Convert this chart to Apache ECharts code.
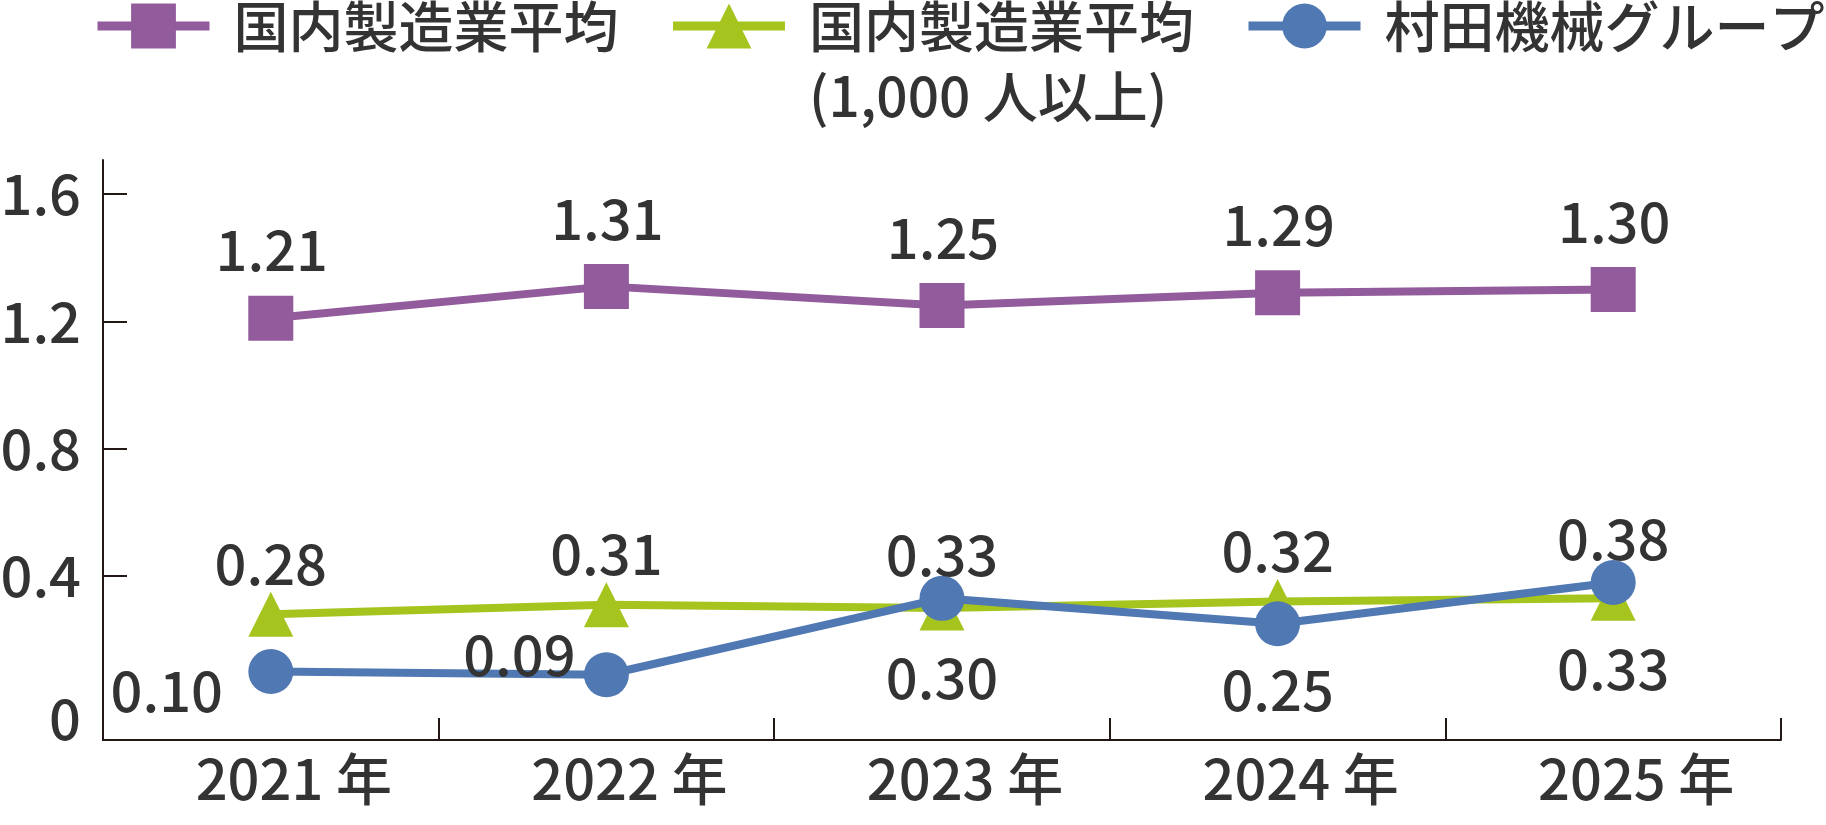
<!DOCTYPE html>
<html>
<head>
<meta charset="utf-8">
<script src="https://cdn.jsdelivr.net/npm/echarts@6/dist/echarts.min.js"></script>
<style>
html,body{margin:0;padding:0;background:#ffffff;}
#chart{width:1826px;height:825px;}
</style>
</head>
<body>
<div id="chart"></div>
<script>
// ---- data ----
const categories = ['2021 年', '2022 年', '2023 年', '2024 年', '2025 年'];
const seriesNames = ['国内製造業平均', '国内製造業平均\n(1,000 人以上)', '村田機械グループ'];
const mfgAverage = [1.21, 1.31, 1.25, 1.29, 1.30];
const mfgLargeAverage = [0.28, 0.31, 0.30, 0.32, 0.33];
const murataGroup = [0.10, 0.09, 0.33, 0.25, 0.38];
const yTickLabels = [0, 0.4, 0.8, 1.2, 1.6];

// ---- label placement (style) ----
const placeMfg = ['top', 'top', 'top', 'top', 'top'];
const placeLarge = ['top', 'top', 'bottom', 'top', 'bottom'];
const placeMurata = ['left', 'upLeft', 'top', 'bottom', 'top'];
const offMfg = { top: [1, -68] };
const offLarge = { top: [0, -51], bottom: [0, 70] };
const offMurata = { top: [0, -44], bottom: [0, 66], left: [-104, 19], upLeft: [-87, -20] };

const FONT = '"Noto Sans CJK JP", "Noto Sans", sans-serif';
const WEIGHT = 500;
const TEXT = '#333333';
const AXIS = '#231815';
const COLORS = ['#925B9B', '#A5C41E', '#5078B3'];
const SYMBOLS = ['rect', 'triangle', 'circle'];

function items(values, places, offsets) {
  return values.map((v, i) => ({ value: v, label: { offset: offsets[places[i]] } }));
}

const dataSets = [
  items(mfgAverage, placeMfg, offMfg),
  items(mfgLargeAverage, placeLarge, offLarge),
  items(murataGroup, placeMurata, offMurata)
];

const series = dataSets.map((d, k) => ({
  type: 'line',
  name: seriesNames[k],
  data: d,
  symbol: SYMBOLS[k],
  symbolSize: 45,
  z: 2 + k,
  itemStyle: { color: COLORS[k] },
  lineStyle: { color: COLORS[k], width: 8 },
  label: {
    show: true,
    position: 'inside',
    fontSize: 56,
    fontWeight: WEIGHT,
    fontFamily: FONT,
    color: TEXT,
    formatter: p => Number(p.value).toFixed(2)
  },
  emphasis: { disabled: true }
}));

const chart = echarts.init(document.getElementById('chart'), null, { renderer: 'canvas' });
chart.setOption({
  animation: false,
  backgroundColor: '#ffffff',
  grid: { left: 103, right: 45, top: 160, bottom: 85, containLabel: false, outerBoundsMode: 'none' },
  legend: {
    left: 93,
    top: -79,
    padding: 0,
    itemWidth: 112,
    itemHeight: 56,
    itemGap: 50,
    selectedMode: false,
    lineStyle: { width: 9 },
    // multi-line name: a blank first line keeps the icon level with the name's first line
    formatter: name => (name.indexOf('\n') >= 0 ? ' \n' + name : name),
    textStyle: { fontSize: 55, fontWeight: WEIGHT, fontFamily: FONT, color: TEXT, lineHeight: 70, padding: [0, 0, 0, 19] },
    data: seriesNames
  },
  xAxis: {
    type: 'category',
    data: categories,
    boundaryGap: true,
    axisLine: { show: true, onZero: false, lineStyle: { color: AXIS, width: 2 } },
    axisTick: { show: true, inside: true, length: 22, lineStyle: { color: AXIS, width: 2 } },
    axisLabel: {
      margin: 11,
      formatter: v => '{a|' + v + '}',
      rich: { a: { fontSize: 56, fontWeight: WEIGHT, fontFamily: FONT, color: TEXT, padding: [0, 0, 0, 46] } }
    },
    splitLine: { show: false }
  },
  yAxis: {
    type: 'value',
    min: -0.115,
    max: 1.707,
    axisLine: { show: true, lineStyle: { color: AXIS, width: 2 } },
    axisTick: { show: true, inside: true, length: 24, customValues: yTickLabels.filter(v => v !== 0), lineStyle: { color: AXIS, width: 2 } },
    axisLabel: {
      margin: 22,
      customValues: yTickLabels,
      fontSize: 56,
      fontFamily: FONT,
      color: TEXT,
      formatter: v => (v === 0 ? '{z|0}' : '{n|' + String(v) + '}'),
      rich: {
        z: { fontSize: 56, fontWeight: WEIGHT, fontFamily: FONT, color: TEXT, padding: [30, 0, 0, 0] },
        n: { fontSize: 56, fontWeight: WEIGHT, fontFamily: FONT, color: TEXT }
      }
    },
    splitLine: { show: false }
  },
  series: series
});
</script>
</body>
</html>
